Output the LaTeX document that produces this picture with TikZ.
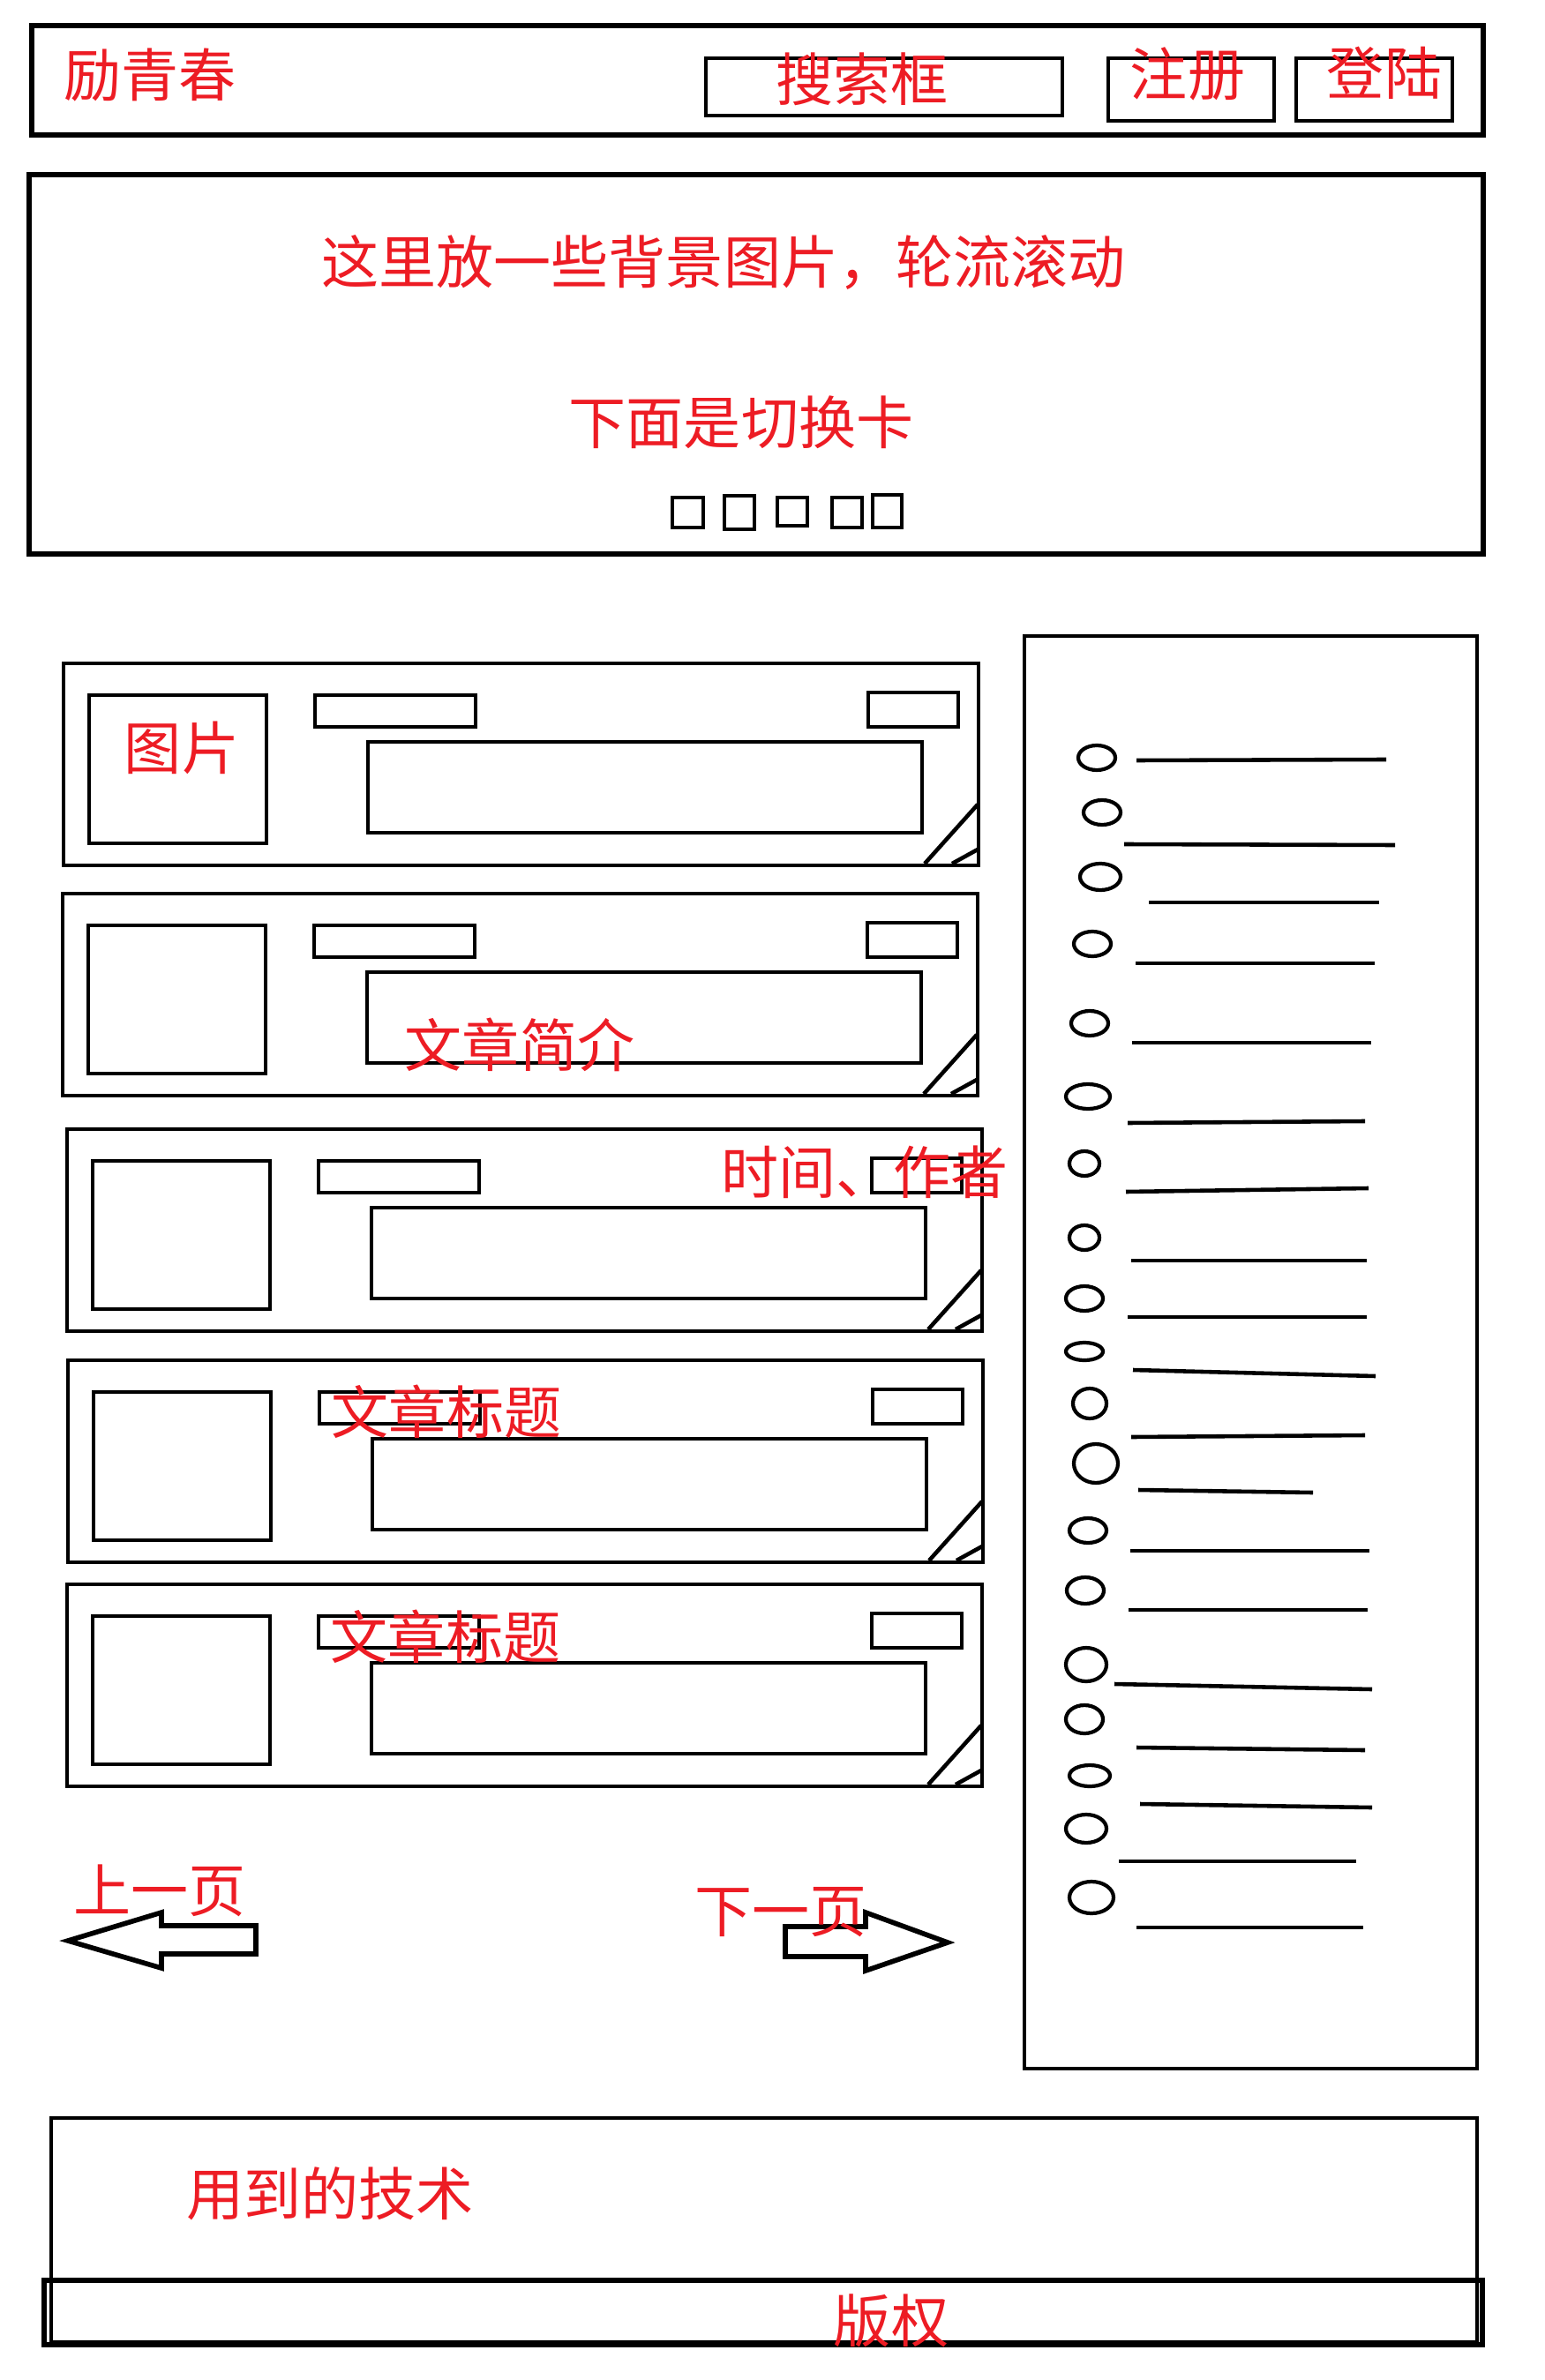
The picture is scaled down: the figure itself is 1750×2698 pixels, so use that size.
\documentclass[tikz,border=0pt]{standalone}
\usepackage{fontspec}
\newfontfamily\cjk{Noto Sans CJK SC}
\definecolor{paintred}{RGB}{237,28,36}

\begin{document}
\begin{tikzpicture}[
    x=0.01cm, y=-0.01cm, line width=1.3pt,
    note/.style={text=paintred, inner sep=0pt,
                 font=\cjk\fontsize{18.5}{20}\selectfont},
    heavy/.style={draw, line width=1.6pt}
  ]
  \useasboundingbox (0,0) rectangle (1750,2698);

  \draw[heavy] (36,29) rectangle (1681,153);
  \draw (800,66) rectangle (1204,131);
  \draw (1256,66) rectangle (1444,137);
  \draw (1469,66) rectangle (1646,137);

  \draw[heavy] (33,198) rectangle (1681,628);
  \draw (762,564) rectangle (797,598);
  \draw (821,562) rectangle (855,600);
  \draw (881,564) rectangle (915,596);
  \draw (943,564) rectangle (977,598);
  \draw (989,561) rectangle (1022,598);

  \foreach \i/\cx/\cy in {1/72/752, 2/71/1013, 3/76/1280, 4/77/1542, 5/76/1796} {
    \begin{scope}[shift={(\cx,\cy)}]
      \draw (0,0) rectangle (1037,229);
      \draw (29,36) rectangle (230,204);
      \draw (285,36) rectangle (467,72);
      \draw (912,33) rectangle (1014,72);
      \draw (345,89) rectangle (973,192);
      \draw (976,227) -- (1036,160);
      \draw (1007,227) -- (1036,211);
    \end{scope}
  }

  \draw (1161,721) rectangle (1674,2345);
  \foreach \ex/\ey/\rx/\ry/\xa/\ya/\xb/\yb in {
      1243/859/21/14/1288/862/1571/861,
      1249/921/21/14/1274/957/1581/958,
      1247/994/23/15/1302/1023/1563/1023,
      1238/1070/21/14/1287/1092/1558/1092,
      1235/1160/21/14/1283/1182/1554/1182,
      1233/1243/25/14/1278/1273/1547/1271,
      1229/1319/17/14/1276/1351/1551/1347,
      1229/1403/17/14/1282/1429/1549/1429,
      1229/1472/21/14/1278/1493/1549/1493,
      1229/1532/21/10/1284/1553/1559/1560,
      1235/1591/19/17/1282/1629/1547/1627,
      1242/1659/25/22/1290/1689/1488/1692,
      1233/1735/21/14/1281/1758/1552/1758,
      1230/1803/21/15/1279/1825/1550/1825,
      1231/1887/23/19/1263/1909/1555/1915,
      1229/1949/21/16/1288/1981/1547/1984,
      1235/2013/23/12/1292/2045/1555/2049,
      1231/2073/23/16/1268/2110/1537/2110,
      1237/2151/25/18/1288/2185/1545/2185} {
    \draw[line width=1.2pt] (\ex,\ey) ellipse [x radius=\rx, y radius=\ry];
    \draw (\xa,\ya) -- (\xb,\yb);
  }

  \draw[heavy] (77,2200) -- (183,2168) -- (183,2183) -- (290,2183)
    -- (290,2215) -- (183,2215) -- (183,2231) -- cycle;
  \draw[heavy] (890,2184) -- (981,2184) -- (981,2168) -- (1074,2202)
    -- (981,2234) -- (981,2218) -- (890,2218) -- cycle;

  \draw[line width=1.1pt] (58,2401) rectangle (1674,2655);
  \draw[heavy] (50,2585) rectangle (1680,2658);

  \node[note] (brand) at (170,85) {励青春};
  \node[note] (search) at (977,90) {搜索框};
  \node[note] (signup) at (1346,84) {注册};
  \node[note] (login) at (1569,83) {登陆};
  \node[note] (slides) at (820,297) {这里放一些背景图片，轮流滚动};
  \node[note] (tabs) at (840,479) {下面是切换卡};
  \node[note] (picture) at (206,848) {图片};
  \node[note] (summary) at (589,1184) {文章简介};
  \node[note] (meta) at (980,1329) {时间、作者};
  \node[note] (titleA) at (506,1600) {文章标题};
  \node[note] (titleB) at (505,1855) {文章标题};
  \node[note] (prev) at (181,2143) {上一页};
  \node[note] (next) at (885,2168) {下一页};
  \node[note] (tech) at (374,2487) {用到的技术};
  \node[note] (rights) at (1010,2631) {版权};
\end{tikzpicture}
\end{document}
